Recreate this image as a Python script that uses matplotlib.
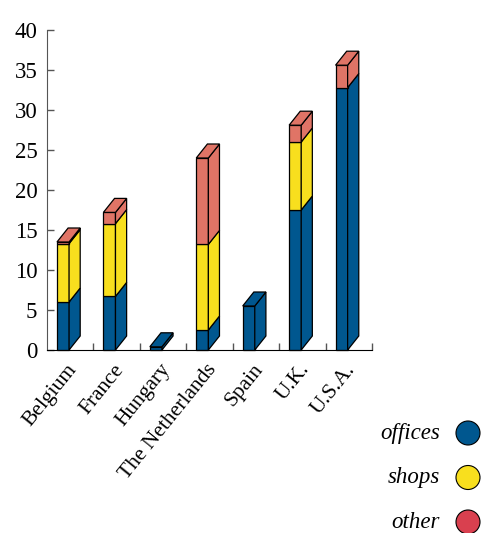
import matplotlib
matplotlib.use('Agg')
from matplotlib import pyplot as plt
from matplotlib.patches import Polygon, Circle

countries = ['Belgium', 'France', 'Hungary', 'The Netherlands', 'Spain', 'U.K.', 'U.S.A.']
offices = [6.0, 6.7, 0.4, 2.5, 5.5, 17.5, 32.8]
shops = [7.3, 9.1, 0.0, 10.7, 0.0, 8.5, 0.0]
other = [0.2, 1.4, 0.0, 10.8, 0.0, 2.1, 2.8]

series = [('offices', offices, '#00578f'),
          ('shops', shops, '#f8df1e'),
          ('other', other, '#e07466')]
legend_colors = ['#00578f', '#f8df1e', '#d9404f']

plt.rcParams['font.family'] = ['Liberation Serif', 'DejaVu Serif']

fig = plt.figure(dpi=100, figsize=(4.83, 5.33))
ax = fig.add_axes([47/483, 1 - 350/533, 325/483, 320/533])
ax.set_xlim(0, 7)
ax.set_ylim(0, 40)

# front face width and the oblique depth offset of each box
x0, w = 0.215, 0.26
ddx, ddy = 0.24, 1.75

def box(x, y1, y2, color, top):
    front = [(x, y1), (x + w, y1), (x + w, y2), (x, y2)]
    side = [(x + w, y1), (x + w + ddx, y1 + ddy), (x + w + ddx, y2 + ddy), (x + w, y2)]
    for pts in (front, side):
        ax.add_patch(Polygon(pts, closed=True, facecolor=color, edgecolor='black',
                             linewidth=0.9, clip_on=False))
    if top:
        lid = [(x, y2), (x + w, y2), (x + w + ddx, y2 + ddy), (x + ddx, y2 + ddy)]
        ax.add_patch(Polygon(lid, closed=True, facecolor=color, edgecolor='black',
                             linewidth=0.9, clip_on=False))

for i in range(len(countries)):
    base = 0
    segs = [(vals[i], c) for _, vals, c in series if vals[i] > 0]
    for j, (v, c) in enumerate(segs):
        box(i + x0, base, base + v, c, j == len(segs) - 1)
        base += v

for s in ['top', 'right']:
    ax.spines[s].set_visible(False)
ax.spines['left'].set_color('#555555')
ax.spines['bottom'].set_color('black')

ax.set_yticks(range(0, 41, 5))
ax.set_xticks(range(1, 8))
ax.set_xticklabels([])
ax.tick_params(axis='y', direction='in', length=5, width=1, labelsize=16.5, pad=7,
               color='#555555')
ax.tick_params(axis='x', direction='in', length=5, width=1, color='#555555')

for i, name in enumerate(countries):
    ax.text(i + 0.42, -1.3, name, rotation=51, ha='right', va='top',
            rotation_mode='anchor', fontsize=15.5)

# legend on the lower right
for k, (name, _, _) in enumerate(series):
    yy = (533 - 433 - 44.5 * k) / 100
    fig.text(4.40 / 4.83, yy / 5.33, name, ha='right', va='center',
             fontsize=16.5, style='italic')
    fig.add_artist(Circle((4.68, yy), 0.12, transform=fig.dpi_scale_trans,
                          facecolor=legend_colors[k], edgecolor='black', linewidth=0.8))

plt.savefig('out.png', dpi=100)
